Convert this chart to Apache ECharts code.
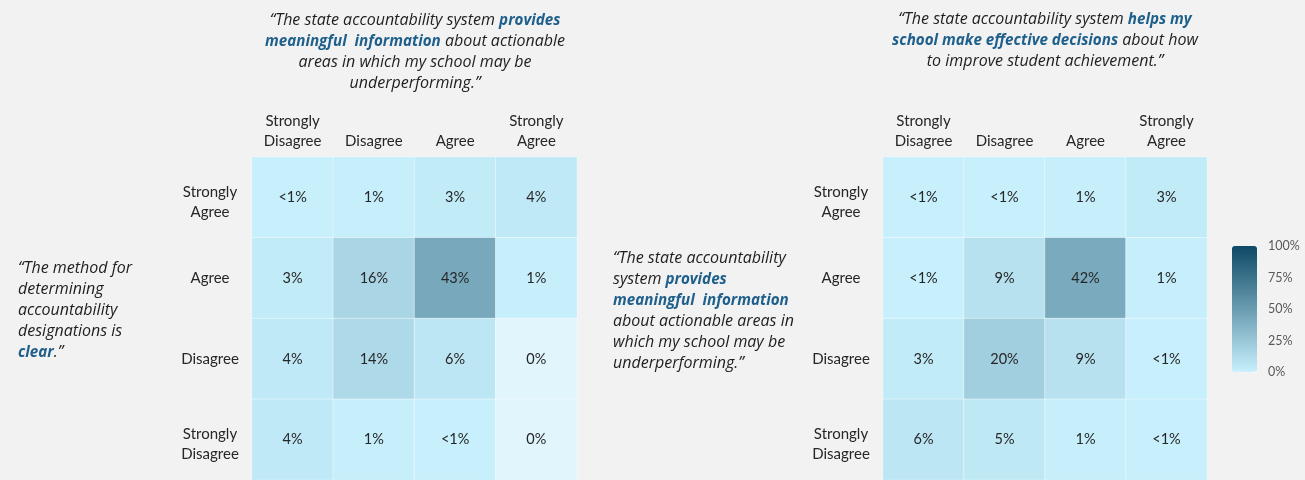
<!DOCTYPE html>
<html><head><meta charset="utf-8">
<script src="https://cdn.jsdelivr.net/npm/echarts@6/dist/echarts.min.js"></script>
<style>html,body{margin:0;padding:0;background:#f2f2f2}#c{width:1305px;height:480px}</style>
</head><body><div id="c"></div>
<script>
const LT1 = 0.5; // marker for "<1%"
const columns = ['Strongly\nDisagree', 'Disagree', 'Agree', 'Strongly\nAgree'];
const rows = ['Strongly\nAgree', 'Agree', 'Disagree', 'Strongly\nDisagree'];
const leftValues = [
  [LT1, 1, 3, 4],
  [3, 16, 43, 1],
  [4, 14, 6, 0],
  [4, 1, LT1, 0]
];
const rightValues = [
  [LT1, LT1, 1, 3],
  [LT1, 9, 42, 1],
  [3, 20, 9, LT1],
  [6, 5, 1, LT1]
];
const legendTicks = [0, 25, 50, 75, 100];

const FONT = 'Lato';
const QFONT = 'Open Sans';
const TXT = '#262626';
const BLUE = '#1f5f8b';

function toData(m) {
  const out = [];
  m.forEach((r, ri) => r.forEach((v, ci) => out.push([ci, ri, v])));
  return out;
}
function fmt(p) { const v = p.value[2]; return v === LT1 ? '<1%' : v + '%'; }

const chart = echarts.init(document.getElementById('c'));
const quoteStyle = { fontFamily: QFONT, fontStyle: 'italic', fontWeight: 'normal', fontSize: 16, color: '#1e1e1e', lineHeight: 21,
  rich: { b: { fontFamily: QFONT, fontStyle: 'italic', fontWeight: 'bold', fontSize: 15.2, color: BLUE, lineHeight: 21 } } };

function xAx(gi) {
  return { type: 'category', gridIndex: gi, data: columns, position: 'top',
    axisLine: { show: false }, axisTick: { show: false },
    axisLabel: { fontFamily: FONT, fontSize: 15, color: TXT, lineHeight: 20, margin: 6 } };
}
function yAx(gi) {
  return { type: 'category', gridIndex: gi, data: rows, inverse: true,
    axisLine: { show: false }, axisTick: { show: false },
    axisLabel: { fontFamily: FONT, fontSize: 15, color: TXT, lineHeight: 20, align: 'center', margin: 42,
      formatter: v => v.indexOf('\n') >= 0 ? '{sp| }\n' + v.split('\n').map(s => '{t|' + s + '}').join('\n') : v,
      rich: { sp: { fontSize: 4, lineHeight: 10 }, t: { fontFamily: FONT, fontSize: 15, color: TXT, lineHeight: 20 } } } };
}
function hm(gi, vals) {
  return { type: 'heatmap', xAxisIndex: gi, yAxisIndex: gi, data: toData(vals),
    label: { show: true, formatter: fmt, fontFamily: FONT, fontSize: 14.5, color: TXT },
    itemStyle: { borderColor: 'rgba(255,255,255,0.45)', borderWidth: 1 },
    emphasis: { disabled: true } };
}

chart.setOption({
  backgroundColor: '#f2f2f2',
  animation: false,
  title: [
    { text: '“The state accountability system {b|provides}\n{b|meaningful  information} about actionable\nareas in which my school may be\nunderperforming.”',
      left: 415, top: 10, textAlign: 'center', padding: 0, textStyle: quoteStyle },
    { text: '“The state accountability system {b|helps my}\n{b|school make effective decisions} about how\nto improve student achievement.”',
      left: 1045, top: 9, textAlign: 'center', padding: 0, textStyle: quoteStyle },
    { text: '“The method for\ndetermining\naccountability\ndesignations is\n{b|clear}.”',
      left: 18, top: 258, padding: 0, textStyle: quoteStyle },
    { text: '“The state accountability\nsystem {b|provides}\n{b|meaningful  information}\nabout actionable areas in\nwhich my school may be\nunderperforming.”',
      left: 613, top: 248, padding: 0, textStyle: quoteStyle }
  ],
  grid: [
    { left: 252, top: 157, width: 325, height: 326 },
    { left: 883, top: 157, width: 324, height: 326 },
    { left: 1232, top: 246, width: 25, height: 126 }
  ],
  xAxis: [xAx(0), xAx(1), { type: 'category', gridIndex: 2, show: false, data: [''] }],
  yAxis: [yAx(0), yAx(1), { type: 'value', gridIndex: 2, min: 0, max: 100, interval: 25, position: 'right',
    axisLine: { show: false }, splitLine: { show: false },
    axisTick: { show: true, inside: true, length: 4, lineStyle: { color: 'rgba(255,255,255,0.55)' } },
    axisLabel: { formatter: '{value}%', fontFamily: FONT, fontSize: 12.5, color: '#595959', margin: 11 } }],
  visualMap: {
    type: 'continuous', min: 0, max: 100, range: [0.1, 100], calculable: false, showLabel: false,
    seriesIndex: [0, 1], left: 1232, top: 246, itemWidth: 25, itemHeight: 126, padding: 0,
    inRange: { color: ['#c8f0fd', '#0c4965'] },
    outOfRange: { color: '#e1f5fd' }
  },
  series: [hm(0, leftValues), hm(1, rightValues)]
});
</script></body></html>
